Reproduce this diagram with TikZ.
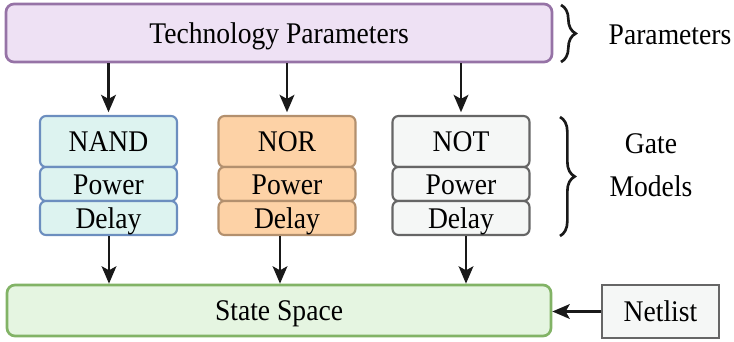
\documentclass[tikz,border=0pt]{standalone}
\usepackage{fontspec}
\setmainfont{Liberation Serif}[FakeStretch=0.92]
\usetikzlibrary{arrows.meta,decorations.pathreplacing}
\definecolor{purplefill}{HTML}{EEE1F4}
\definecolor{purpleline}{HTML}{9673A6}
\definecolor{bluefill}{HTML}{DDF3F0}
\definecolor{blueline}{HTML}{6C8EBF}
\definecolor{orangefill}{HTML}{FDD2A6}
\definecolor{orangeline}{HTML}{B3906E}
\definecolor{grayfill}{HTML}{F5F7F6}
\definecolor{grayline}{HTML}{666666}
\definecolor{greenfill}{HTML}{E5F5E1}
\definecolor{greenline}{HTML}{82B366}

\begin{document}
\begin{tikzpicture}[x=0.75pt,y=-0.75pt,line width=2pt,
    every node/.style={font=\fontsize{22.5}{26}\selectfont,text height=15.3pt,text depth=0pt}]
            \tikzstyle{bigbox}=[draw,rounded corners=6pt,inner sep=0pt,minimum width=408pt,minimum height=38.25pt]
            \tikzstyle{gatecell}=[draw,rounded corners=4.5pt,inner sep=0pt,line width=1.6pt,minimum width=102.75pt,minimum height=25.5pt]
            \tikzstyle{flow}=[-{Stealth[length=13pt,width=11pt,inset=3pt]},line width=2pt,black!90]
            \tikzstyle{bracket}=[decorate,decoration={brace,amplitude=11pt},line width=2pt,black!90]
            \useasboundingbox (0,0) rectangle (734,342);

                    \node[bigbox,draw=purpleline,fill=purplefill,minimum width=409.5pt,minimum height=43.5pt] (T) at (279,33) {Technology Parameters};

                    % gate models: name, centre, colours
                    \foreach \i/\name/\x/\fc/\lc in {0/NAND/108.5/bluefill/blueline, 1/NOR/287/orangefill/orangeline, 2/NOT/461/grayfill/grayline}{
                        \node[gatecell,fill=\fc,draw=\lc,minimum height=38.25pt] (G-\i) at (\x,141.5) {\name};
                        \node[gatecell,fill=\fc,draw=\lc] (P-\i) at (\x,184) {Power};
                        \node[gatecell,fill=\fc,draw=\lc] (D-\i) at (\x,218) {Delay};
                    }

                    \node[bigbox,draw=greenline,fill=greenfill] (S) at (279,310.5) {State Space};
                    \node[draw=grayline,fill=grayfill,line width=2.2pt,inner sep=0pt,minimum width=87.75pt,minimum height=39.75pt] (N) at (660.5,311.5) {Netlist};

                \foreach \to in {0,1,2}
                    \draw[flow,shorten >=2pt] (T.south -| G-\to.north) -- (G-\to.north);
                \foreach \from/\dx in {0/0.5,1/-7,2/5}{
                    \coordinate (E-\from) at ([xshift=\dx*0.75pt]D-\from.south);
                    \draw[flow] (E-\from) -- (S.north -| E-\from);
                }
                \draw[flow] (N.west) -- (S.east |- N.west);

                    \coordinate (B-1) at (561,5);
                    \coordinate (B-2) at (561,62);
                    \coordinate (B-3) at (560,117);
                    \coordinate (B-4) at (560,236);
                    \draw[bracket] (B-1) -- (B-2);
                    \draw[bracket] (B-3) -- (B-4);
                    \node (L-1) at (670,34) {Parameters};
                    \node[align=center,text height=,text depth=,font=\fontsize{22.5}{32}\selectfont] (L-2) at (651,165) {Gate\\Models};
        \end{tikzpicture}
\end{document}
